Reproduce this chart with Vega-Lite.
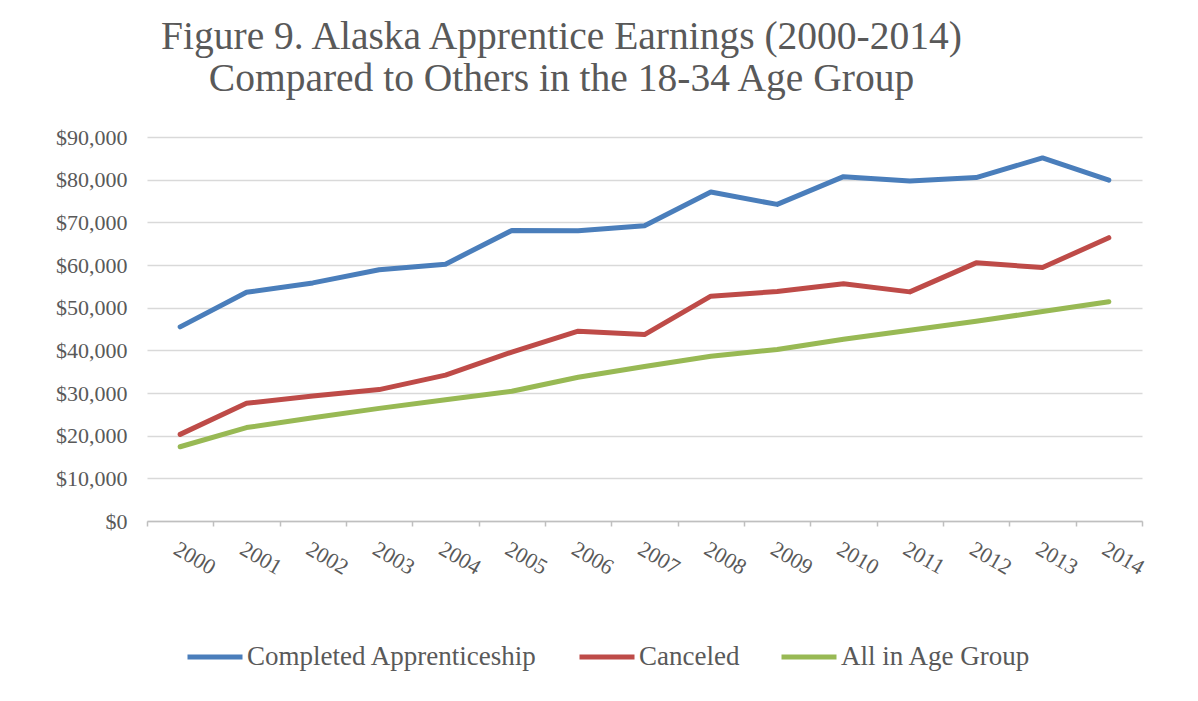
{
  "$schema": "https://vega.github.io/schema/vega-lite/v6.json",
  "width": 995,
  "height": 384,
  "autosize": {"type": "none"},
  "padding": {"left": 147, "top": 137, "right": 56, "bottom": 180},
  "background": "white",
  "title": {
    "text": ["Figure 9. Alaska Apprentice Earnings (2000-2014)", "Compared to Others in the 18-34 Age Group"],
    "font": "Liberation Serif",
    "fontSize": 39.5,
    "fontWeight": "normal",
    "color": "#595959",
    "lineHeight": 42,
    "anchor": "middle",
    "dx": -83,
    "offset": 27
  },
  "data": {
    "values": [
      {"year": "2000", "series": "Completed Apprenticeship", "value": 45500},
      {"year": "2001", "series": "Completed Apprenticeship", "value": 53600},
      {"year": "2002", "series": "Completed Apprenticeship", "value": 55800},
      {"year": "2003", "series": "Completed Apprenticeship", "value": 58900},
      {"year": "2004", "series": "Completed Apprenticeship", "value": 60200},
      {"year": "2005", "series": "Completed Apprenticeship", "value": 68100},
      {"year": "2006", "series": "Completed Apprenticeship", "value": 68000},
      {"year": "2007", "series": "Completed Apprenticeship", "value": 69200},
      {"year": "2008", "series": "Completed Apprenticeship", "value": 77100},
      {"year": "2009", "series": "Completed Apprenticeship", "value": 74200},
      {"year": "2010", "series": "Completed Apprenticeship", "value": 80700},
      {"year": "2011", "series": "Completed Apprenticeship", "value": 79700},
      {"year": "2012", "series": "Completed Apprenticeship", "value": 80500},
      {"year": "2013", "series": "Completed Apprenticeship", "value": 85100},
      {"year": "2014", "series": "Completed Apprenticeship", "value": 79900},
      {"year": "2000", "series": "Canceled", "value": 20300},
      {"year": "2001", "series": "Canceled", "value": 27600},
      {"year": "2002", "series": "Canceled", "value": 29300},
      {"year": "2003", "series": "Canceled", "value": 30800},
      {"year": "2004", "series": "Canceled", "value": 34200},
      {"year": "2005", "series": "Canceled", "value": 39600},
      {"year": "2006", "series": "Canceled", "value": 44500},
      {"year": "2007", "series": "Canceled", "value": 43700},
      {"year": "2008", "series": "Canceled", "value": 52700},
      {"year": "2009", "series": "Canceled", "value": 53800},
      {"year": "2010", "series": "Canceled", "value": 55600},
      {"year": "2011", "series": "Canceled", "value": 53700},
      {"year": "2012", "series": "Canceled", "value": 60500},
      {"year": "2013", "series": "Canceled", "value": 59400},
      {"year": "2014", "series": "Canceled", "value": 66400},
      {"year": "2000", "series": "All in Age Group", "value": 17400},
      {"year": "2001", "series": "All in Age Group", "value": 21900},
      {"year": "2002", "series": "All in Age Group", "value": 24200},
      {"year": "2003", "series": "All in Age Group", "value": 26400},
      {"year": "2004", "series": "All in Age Group", "value": 28400},
      {"year": "2005", "series": "All in Age Group", "value": 30400},
      {"year": "2006", "series": "All in Age Group", "value": 33700},
      {"year": "2007", "series": "All in Age Group", "value": 36200},
      {"year": "2008", "series": "All in Age Group", "value": 38600},
      {"year": "2009", "series": "All in Age Group", "value": 40200},
      {"year": "2010", "series": "All in Age Group", "value": 42600},
      {"year": "2011", "series": "All in Age Group", "value": 44700},
      {"year": "2012", "series": "All in Age Group", "value": 46800},
      {"year": "2013", "series": "All in Age Group", "value": 49100},
      {"year": "2014", "series": "All in Age Group", "value": 51400}
    ]
  },
  "mark": {"type": "line", "strokeWidth": 5, "strokeJoin": "round", "strokeCap": "round"},
  "encoding": {
    "x": {
      "field": "year",
      "type": "ordinal",
      "scale": {"type": "band", "paddingInner": 0, "paddingOuter": 0},
      "axis": {
        "title": null,
        "labelAngle": 30,
        "labelAlign": "left",
        "labelBaseline": "top",
        "labelPadding": 12,
        "labelFont": "Liberation Serif",
        "labelFontSize": 22,
        "labelColor": "#595959",
        "tickBand": "extent",
        "tickSize": 5,
        "tickColor": "#bfbfbf",
        "tickWidth": 1.5,
        "domainColor": "#bfbfbf",
        "domainWidth": 1.5,
        "grid": false
      }
    },
    "y": {
      "field": "value",
      "type": "quantitative",
      "scale": {"domain": [0, 90000]},
      "axis": {
        "title": null,
        "values": [0, 10000, 20000, 30000, 40000, 50000, 60000, 70000, 80000, 90000],
        "format": "$,.0f",
        "labelFont": "Liberation Serif",
        "labelFontSize": 22,
        "labelColor": "#595959",
        "labelPadding": 20,
        "ticks": false,
        "domain": false,
        "gridColor": "#d9d9d9",
        "gridWidth": 1.5
      }
    },
    "color": {
      "field": "series",
      "type": "nominal",
      "scale": {
        "domain": ["Completed Apprenticeship", "Canceled", "All in Age Group"],
        "range": ["#4A7EBB", "#BE4B48", "#98B954"]
      },
      "legend": {
        "title": null,
        "orient": "none",
        "legendX": 38,
        "legendY": 490,
        "direction": "horizontal",
        "symbolType": "stroke",
        "symbolSize": 3025,
        "symbolStrokeWidth": 5,
        "labelFont": "Liberation Serif",
        "labelFontSize": 27,
        "labelColor": "#595959",
        "labelOffset": 2,
        "columnPadding": 31,
        "padding": 0,
        "labelLimit": 0
      }
    }
  },
  "config": {
    "view": {"stroke": null}
  }
}
